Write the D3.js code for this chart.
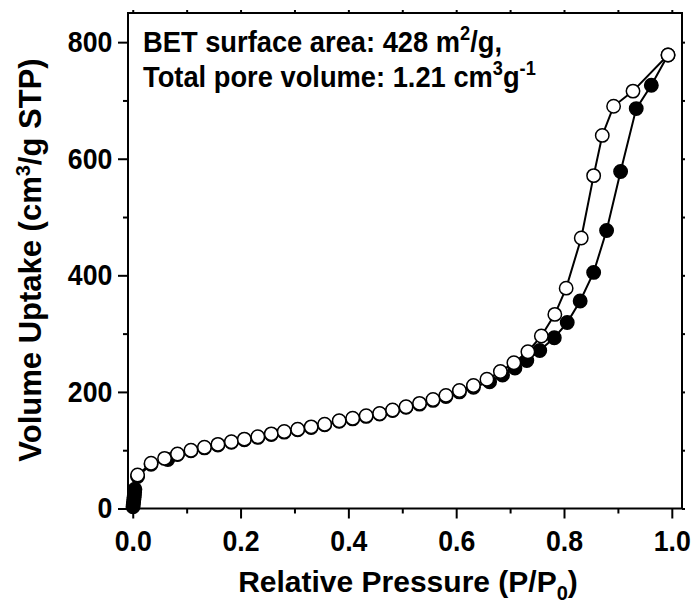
<!DOCTYPE html>
<html>
<head>
<meta charset="utf-8">
<script src="https://cdn.jsdelivr.net/npm/d3@7"></script>
<style>
body{margin:0;background:#fff;}
text{font-family:"Liberation Sans",Arial,sans-serif;font-weight:bold;fill:#000;}
</style>
</head>
<body>
<div id="chart"></div>
<script>
// adsorption branch (filled)
var adsP = [0.0005,0.001,0.0015,0.002,0.0025,0.003,0.0035,0.004,0.009,0.034,0.065,
	0.083,0.108,0.133,0.158,0.183,0.207,0.232,0.257,0.281,0.306,0.331,
	0.356,0.383,0.408,0.433,0.458,0.482,0.507,0.532,0.557,0.581,0.606,0.632,
	0.662,0.686,0.709,0.731,0.755,0.782,0.806,0.830,0.855,0.879,0.905,0.934,0.962,0.993];
var adsV = [3,7,11,15,19,23,28,33,55,76,84,
	92.5,99,104,109,113.6,118,122,127,131,135,139,
	143.5,149.6,153.7,158,162,168,173.6,179,185.5,192,200,208,
	217.5,229,241,254,271,293,319,356,405,477,578,686,726,778];
// desorption branch (open)
var desP = [0.009,0.034,0.059,0.083,0.108,0.133,0.158,0.183,0.207,0.232,0.257,0.281,0.306,0.331,
	0.356,0.383,0.408,0.433,0.458,0.482,0.507,0.532,0.557,0.581,0.606,0.632,
	0.657,0.682,0.707,0.733,0.758,0.783,0.804,0.832,0.855,0.871,0.892,0.928,0.993];
var desV = [57.5,77.5,86,93.5,100,105,110,114.6,119,123,128,132,136,140,
	144.5,150.6,154.7,159,163,169,174.6,180.4,187,194,202.5,211,
	221.6,235,250,269,296,333,378,464,571,640,690,716,778];

var xTicks = [0,0.2,0.4,0.6,0.8,1.0];
var xMinor = [0.1,0.3,0.5,0.7,0.9];
var yTicks = [0,200,400,600,800];
var yMinor = [100,300,500,700];

var width = 692, height = 610;
var pL = 128, pR = 682, pT = 13, pB = 508.5;

var x = d3.scaleLinear().domain([-0.0088, 1.0189]).range([pL, pR]);
var y = d3.scaleLinear().domain([0, 850]).range([pB, pT]);

var ads = adsP.map(function(p,i){return [p, adsV[i]]});
var des = desP.map(function(p,i){return [p, desV[i]]});

var svg = d3.select("#chart").append("svg")
	.attr("width", width)
	.attr("height", height);

// minor ticks first
svg.append("g")
	.attr("transform", "translate(0," + pB + ")")
	.call(d3.axisBottom(x).tickValues(xMinor).tickSize(5).tickFormat(""))
	.call(function(g){g.select(".domain").remove()});
svg.append("g")
	.attr("transform", "translate(" + pL + ",0)")
	.call(d3.axisLeft(y).tickValues(yMinor).tickSize(5).tickFormat(""))
	.call(function(g){g.select(".domain").remove()});

var xAxis = svg.append("g")
	.attr("class", "x_axis")
	.attr("transform", "translate(0," + pB + ")")
	.call(d3.axisBottom(x).tickValues(xTicks).tickSize(10).tickPadding(12).tickFormat(d3.format(".1f")));
xAxis.select(".domain").remove();
xAxis.selectAll("text").style("font-size", "29px").attr("transform", "scale(0.92,1)");

var yAxis = svg.append("g")
	.attr("class", "y_axis")
	.attr("transform", "translate(" + pL + ",0)")
	.call(d3.axisLeft(y).tickValues(yTicks).tickSize(10).tickPadding(7).tickFormat(d3.format("d")));
yAxis.select(".domain").remove();
yAxis.selectAll("text").style("font-size", "29px").attr("transform", "scale(0.92,1)");

// top and right small ticks
svg.append("g")
	.attr("transform", "translate(0," + pT + ")")
	.call(d3.axisTop(x).tickValues(xTicks.concat(xMinor)).tickSize(3).tickFormat(""))
	.call(function(g){g.select(".domain").remove()});
svg.append("g")
	.attr("transform", "translate(" + pR + ",0)")
	.call(d3.axisRight(y).tickValues(yTicks.concat(yMinor)).tickSize(3).tickFormat(""))
	.call(function(g){g.select(".domain").remove()});

svg.selectAll(".tick line").style("stroke", "#000").style("stroke-width", 2);

// frame
svg.append("rect")
	.attr("x", pL).attr("y", pT)
	.attr("width", pR - pL).attr("height", pB - pT)
	.style("fill", "none").style("stroke", "#000").style("stroke-width", 2);

var line = d3.line()
	.x(function(d){return x(d[0])})
	.y(function(d){return y(d[1])});

svg.append("path").datum(ads).attr("d", line)
	.style("fill", "none").style("stroke", "#000").style("stroke-width", 2);
svg.append("path").datum(des).attr("d", line)
	.style("fill", "none").style("stroke", "#000").style("stroke-width", 2);

svg.append("g").selectAll("circle")
	.data(ads).enter()
	.append("circle")
	.attr("cx", function(d){return x(d[0])})
	.attr("cy", function(d){return y(d[1])})
	.attr("r", 6.7)
	.style("fill", "#000").style("stroke", "#000").style("stroke-width", 1.5);

svg.append("g").selectAll("circle")
	.data(des).enter()
	.append("circle")
	.attr("cx", function(d){return x(d[0])})
	.attr("cy", function(d){return y(d[1])})
	.attr("r", 6.7)
	.style("fill", "#fff").style("stroke", "#000").style("stroke-width", 1.5);

// axis titles
var xl = svg.append("text")
	.attr("x", 408).attr("y", 592)
	.style("text-anchor", "middle")
	.style("font-size", "30px");
xl.append("tspan").text("Relative Pressure (P/P");
xl.append("tspan").attr("dy", 8).style("font-size", "20px").text("0");
xl.append("tspan").attr("dy", -8).text(")");

var yl = svg.append("text")
	.attr("transform", "translate(41,260) rotate(-90)")
	.style("text-anchor", "middle")
	.style("font-size", "31px");
yl.append("tspan").text("Volume Uptake (cm");
yl.append("tspan").attr("dy", -11).style("font-size", "20px").text("3");
yl.append("tspan").attr("dy", 11).text("/g STP)");

// annotation, slightly condensed like the original
var note = svg.append("g").attr("transform", "translate(143,0) scale(0.91,1)");
var t1 = note.append("text").attr("x", 0).attr("y", 52).style("font-size", "30px");
t1.append("tspan").text("BET surface area: 428 m");
t1.append("tspan").attr("dy", -12).style("font-size", "20px").text("2");
t1.append("tspan").attr("dy", 12).text("/g,");

var t2 = note.append("text").attr("x", 0).attr("y", 87).style("font-size", "30px");
t2.append("tspan").text("Total pore volume: 1.21 cm");
t2.append("tspan").attr("dy", -12).style("font-size", "20px").text("3");
t2.append("tspan").attr("dy", 12).text("g");
t2.append("tspan").attr("dy", -12).style("font-size", "20px").text("-1");
</script>
</body>
</html>
